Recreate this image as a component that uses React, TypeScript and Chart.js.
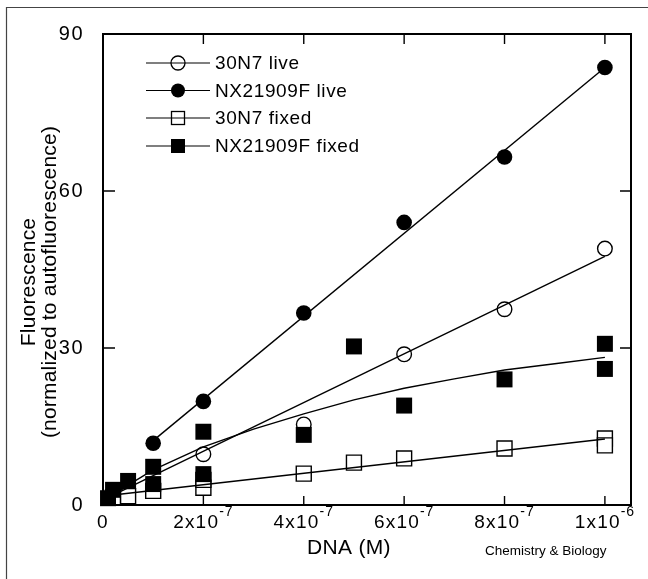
import { useEffect, useRef } from "react";
import { Chart, registerables } from "chart.js";

Chart.register(...registerables);

// ---------- data ----------
const xTickValues = [0, 2e-7, 4e-7, 6e-7, 8e-7, 1e-6];
const xTickBase = ["0", "2x10", "4x10", "6x10", "8x10", "1x10"];
const xTickExp = ["", "-7", "-7", "-7", "-7", "-6"];
const yTickValues = [0, 30, 60, 90];
const yTickLabels = ["0", "30", "60", "90"];

const seriesNames = ["30N7 live", "NX21909F live", "30N7 fixed", "NX21909F fixed"];

// 30N7 live (open circles)
const live30X = [2e-7, 4e-7, 6e-7, 8e-7, 1e-6];
const live30Y = [9.7, 15.4, 28.8, 37.4, 49.0];
// NX21909F live (filled circles)
const liveNxX = [1e-7, 2e-7, 4e-7, 6e-7, 8e-7, 1e-6];
const liveNxY = [11.8, 19.8, 36.7, 54.0, 66.5, 83.6];
// 30N7 fixed (open squares)
const fixed30X = [2e-8, 5e-8, 1e-7, 2e-7, 2e-7, 4e-7, 5e-7, 6e-7, 8e-7, 1e-6, 1e-6];
const fixed30Y = [1.5, 1.7, 2.7, 3.3, 4.8, 6.0, 8.1, 8.9, 10.8, 12.7, 11.4];
// NX21909F fixed (filled squares)
const fixedNxX = [1e-8, 2e-8, 5e-8, 1e-7, 1e-7, 2e-7, 2e-7, 4e-7, 5e-7, 6e-7, 8e-7, 1e-6, 1e-6];
const fixedNxY = [1.3, 2.9, 4.6, 7.3, 4.0, 14.0, 5.9, 13.4, 30.3, 19.0, 24.0, 30.8, 26.0];

// fitted curves
const fitLiveNxX = [1e-7, 1e-6];
const fitLiveNxY = [12.3, 83.6];
const fitLive30X = [2e-8, 1e-6];
const fitLive30Y = [1.9, 47.5];
const fitFixed30X = [2e-8, 1e-6];
const fitFixed30Y = [1.9, 12.6];
const fitFixedNxX = [2e-8, 5e-8, 1e-7, 2e-7, 3e-7, 4e-7, 5e-7, 6e-7, 7e-7, 8e-7, 9e-7, 1e-6];
const fitFixedNxY = [1.8, 3.8, 6.7, 11.1, 14.5, 17.4, 20.1, 22.3, 24.1, 25.8, 27.0, 28.2];

const toPts = (xs: number[], ys: number[]) => xs.map((x, i) => ({ x, y: ys[i] }));

const FONT = "'Liberation Sans', Arial, Helvetica, sans-serif";

function setSpacing(ctx: CanvasRenderingContext2D, px: number) {
  const c = ctx as any;
  if ("letterSpacing" in c) c.letterSpacing = px + "px";
}

const decorPlugin = {
  id: "decor",
  afterDraw(chart: any) {
    const ctx: CanvasRenderingContext2D = chart.ctx;
    const { left, right, top, bottom } = chart.chartArea;
    const xs = chart.scales.x;
    const ys = chart.scales.y;
    ctx.save();

    // outer figure border
    ctx.strokeStyle = "#444";
    ctx.lineWidth = 1.2;
    ctx.beginPath();
    ctx.moveTo(6.5, 579);
    ctx.lineTo(6.5, 7.5);
    ctx.lineTo(648, 7.5);
    ctx.stroke();

    // plot frame
    ctx.strokeStyle = "#000";
    ctx.lineWidth = 2;
    ctx.strokeRect(left, top, right - left, bottom - top);

    // inward ticks
    ctx.lineWidth = 1.4;
    ctx.beginPath();
    xTickValues.forEach((v) => {
      if (v === 0) return;
      const px = xs.getPixelForValue(v);
      ctx.moveTo(px, bottom);
      ctx.lineTo(px, bottom - 9);
      ctx.moveTo(px, top);
      ctx.lineTo(px, top + 10);
    });
    yTickValues.forEach((v) => {
      if (v === 0 || v === 90) return;
      const py = ys.getPixelForValue(v);
      ctx.moveTo(left, py);
      ctx.lineTo(left + 12, py);
      ctx.moveTo(right, py);
      ctx.lineTo(right - 11, py);
    });
    ctx.stroke();

    ctx.fillStyle = "#000";

    // y tick labels
    ctx.font = `20px ${FONT}`;
    setSpacing(ctx, 1.5);
    ctx.textAlign = "right";
    ctx.textBaseline = "middle";
    yTickValues.forEach((v, i) => {
      const py = ys.getPixelForValue(v);
      ctx.fillText(yTickLabels[i], 84, py);
    });

    // x tick labels with exponents
    ctx.textAlign = "left";
    ctx.textBaseline = "alphabetic";
    xTickValues.forEach((v, i) => {
      const px = xs.getPixelForValue(v);
      ctx.font = `19px ${FONT}`;
      setSpacing(ctx, 1.2);
      const wb = ctx.measureText(xTickBase[i]).width;
      ctx.font = `14px ${FONT}`;
      setSpacing(ctx, 1);
      const we = xTickExp[i] ? ctx.measureText(xTickExp[i]).width : 0;
      const start = px - (wb + we) / 2;
      ctx.font = `19px ${FONT}`;
      setSpacing(ctx, 1.2);
      ctx.fillText(xTickBase[i], start, 528);
      if (xTickExp[i]) {
        ctx.font = `14px ${FONT}`;
        setSpacing(ctx, 1);
        ctx.fillText(xTickExp[i], start + wb, 516);
      }
    });

    // axis titles
    setSpacing(ctx, 0.3);
    ctx.font = `21px ${FONT}`;
    ctx.textAlign = "center";
    ctx.textBaseline = "middle";
    ctx.fillText("DNA (M)", 349, 548);

    setSpacing(ctx, 0);
    ctx.font = `13.5px ${FONT}`;
    ctx.textAlign = "left";
    ctx.fillText("Chemistry & Biology", 485, 551);

    ctx.save();
    ctx.translate(29, 282);
    ctx.rotate(-Math.PI / 2);
    ctx.font = `21px ${FONT}`;
    setSpacing(ctx, 0.2);
    ctx.textAlign = "center";
    ctx.textBaseline = "middle";
    ctx.fillText("Fluorescence", 0, 0);
    ctx.translate(0, 21);
    ctx.fillText("(normalized to autofluorescence)", 0, 0);
    ctx.restore();

    // legend
    const rowY = [63, 90.5, 118, 146];
    seriesNames.forEach((name, i) => {
      const y = rowY[i];
      ctx.strokeStyle = "#000";
      ctx.lineWidth = 1.2;
      ctx.beginPath();
      ctx.moveTo(146, y);
      ctx.lineTo(210, y);
      ctx.stroke();
      const mx = 178;
      ctx.lineWidth = 1.3;
      if (i < 2) {
        ctx.beginPath();
        ctx.arc(mx, y, 7, 0, Math.PI * 2);
        if (i === 1) {
          ctx.fillStyle = "#000";
          ctx.fill();
        } else {
          ctx.stroke();
        }
      } else {
        if (i === 3) {
          ctx.fillStyle = "#000";
          ctx.fillRect(mx - 7, y - 7, 14, 14);
        } else {
          ctx.strokeRect(mx - 6.5, y - 6.5, 13, 13);
        }
      }
      ctx.fillStyle = "#000";
      ctx.font = `19px ${FONT}`;
      setSpacing(ctx, 0.6);
      ctx.textAlign = "left";
      ctx.textBaseline = "middle";
      ctx.fillText(name, 215, y + 1);
    });

    ctx.restore();
  },
};

export default function App() {
  const ref = useRef<HTMLCanvasElement | null>(null);

  useEffect(() => {
    if (!ref.current) return;
    const lineDs = (xs: number[], ys: number[], order: number) => ({
      type: "line" as const,
      data: toPts(xs, ys),
      showLine: true,
      borderColor: "#000",
      borderWidth: 1.4,
      pointRadius: 0,
      fill: false,
      tension: 0,
      order,
      clip: false as any,
    });
    const chart = new Chart(ref.current, {
      type: "scatter",
      data: {
        datasets: [
          lineDs(fitLiveNxX, fitLiveNxY, 0),
          lineDs(fitLive30X, fitLive30Y, 0),
          lineDs(fitFixed30X, fitFixed30Y, 0),
          lineDs(fitFixedNxX, fitFixedNxY, 0),
          {
            label: seriesNames[3],
            data: toPts(fixedNxX, fixedNxY),
            pointStyle: "rect",
            pointRadius: 11.3,
            backgroundColor: "#000",
            borderColor: "#000",
            borderWidth: 0,
            order: 1,
            clip: false as any,
          },
          {
            label: seriesNames[2],
            data: toPts(fixed30X, fixed30Y),
            pointStyle: "rect",
            pointRadius: 10.6,
            backgroundColor: "#fff",
            borderColor: "#000",
            borderWidth: 1.4,
            order: 2,
            clip: false as any,
          },
          {
            label: seriesNames[0],
            data: toPts(live30X, live30Y),
            pointStyle: "circle",
            pointRadius: 7.3,
            backgroundColor: "#fff",
            borderColor: "#000",
            borderWidth: 1.4,
            order: 3,
            clip: false as any,
          },
          {
            label: seriesNames[1],
            data: toPts(liveNxX, liveNxY),
            pointStyle: "circle",
            pointRadius: 7.8,
            backgroundColor: "#000",
            borderColor: "#000",
            borderWidth: 0,
            order: 4,
            clip: false as any,
          },
        ] as any,
      },
      options: {
        animation: false,
        responsive: false,
        devicePixelRatio: 1,
        layout: { padding: { left: 103, right: 17, top: 34, bottom: 74 } },
        scales: {
          x: { type: "linear", min: 0, max: 1.052e-6, display: false },
          y: { type: "linear", min: 0, max: 90, display: false },
        },
        plugins: {
          legend: { display: false },
          tooltip: { enabled: false },
        },
        events: [],
      },
      plugins: [decorPlugin],
    });
    return () => chart.destroy();
  }, []);

  return (
    <div style={{ position: "absolute", left: 0, top: 0, width: 648, height: 579, background: "#fff" }}>
      <canvas ref={ref} width={648} height={579} style={{ width: 648, height: 579, display: "block" }} />
    </div>
  );
}
